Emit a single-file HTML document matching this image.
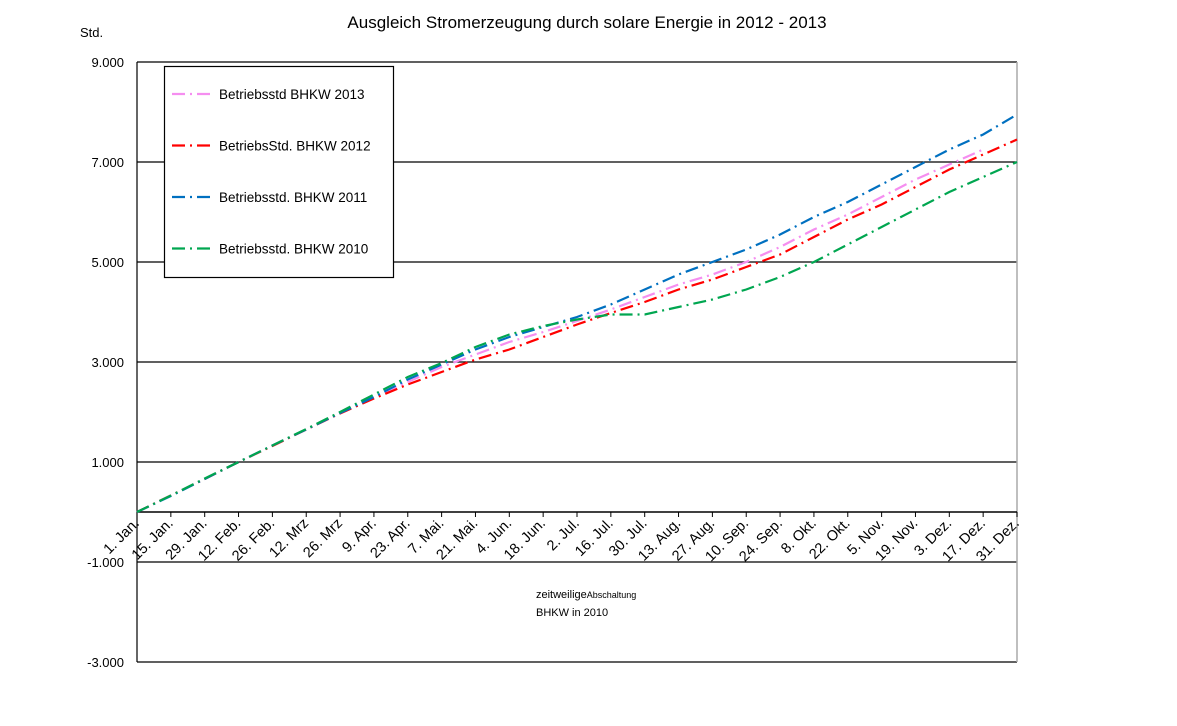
<!DOCTYPE html>
<html><head><meta charset="utf-8"><style>
body{margin:0;background:#fff}
svg{display:block;font-family:"Liberation Sans",sans-serif}
</style></head><body>
<svg id="c" width="1177" height="726" viewBox="0 0 1177 726">
<text x="587" y="28" font-size="17" text-anchor="middle">Ausgleich Stromerzeugung  durch solare Energie in 2012 - 2013</text>
<text x="80" y="37" font-size="13">Std.</text>
<g id="grid"></g><g id="ticks"></g><g id="series"></g>
<text x="536" y="598" font-size="11">zeitweilige<tspan font-size="9">Abschaltung</tspan></text>
<text x="536" y="616" font-size="11">BHKW in 2010</text>
<g id="legend"></g>
</svg>
<script>
const categories=["1. Jan.","15. Jan.","29. Jan.","12. Feb.","26. Feb.","12. Mrz","26. Mrz","9. Apr.","23. Apr.","7. Mai.","21. Mai.","4. Jun.","18. Jun.","2. Jul.","16. Jul.","30. Jul.","13. Aug.","27. Aug.","10. Sep.","24. Sep.","8. Okt.","22. Okt.","5. Nov.","19. Nov.","3. Dez.","17. Dez.","31. Dez."];
const yTicks=[9000,7000,5000,3000,1000,-1000,-3000];
const yTickLabels=["9.000","7.000","5.000","3.000","1.000","-1.000","-3.000"];
const s2013=[0,330,660,1000,1330,1650,1980,2300,2600,2900,3150,3400,3600,3820,4050,4300,4550,4750,5000,5300,5650,5950,6300,6650,6950,7250];
const s2012=[0,330,660,1000,1320,1650,1970,2270,2550,2800,3050,3250,3500,3750,3980,4200,4450,4650,4900,5150,5500,5850,6150,6500,6850,7150,7450];
const s2011=[0,320,660,1000,1330,1650,1980,2300,2650,2950,3250,3500,3700,3900,4150,4450,4750,5000,5250,5550,5900,6200,6550,6900,7250,7550,7950];
const s2010=[0,330,670,1000,1330,1660,2000,2350,2700,2980,3300,3550,3720,3850,3950,3950,4100,4250,4450,4700,5000,5350,5700,6050,6400,6700,7000];
const seriesNames=["Betriebsstd BHKW 2013","BetriebsStd. BHKW 2012","Betriebsstd. BHKW 2011","Betriebsstd. BHKW 2010"];
const seriesColors=["#f58ef0","#ff0000","#0070c0","#00a650"];
const X0=137,X1=1017,Y0=512;
const xs=i=>X0+i*(X1-X0)/(categories.length-1);
const ys=v=>Y0-v*0.05;
const NS="http://www.w3.org/2000/svg";
function mk(p,t,a){const e=document.createElementNS(NS,t);for(const k in a)e.setAttribute(k,a[k]);p.appendChild(e);return e;}
const grid=document.getElementById('grid'),ticks=document.getElementById('ticks'),ser=document.getElementById('series'),leg=document.getElementById('legend');
yTicks.forEach((v,i)=>{
 const l=mk(grid,'line',{x1:X0,x2:X1,y1:ys(v),y2:ys(v),stroke:'#000','stroke-width':1.2});
 
 
 const t=mk(ticks,'text',{x:124,y:ys(v)+5,'font-size':13,'text-anchor':'end'});
 t.textContent=yTickLabels[i];
 
 
});
let a=mk(grid,'line',{x1:X0,x2:X0,y1:62,y2:662,stroke:'#000','stroke-width':1.2});


a=mk(grid,'line',{x1:X1,x2:X1,y1:62,y2:662,stroke:'#aaa','stroke-width':1.5});


a=mk(grid,'line',{x1:X0,x2:X1,y1:Y0,y2:Y0,stroke:'#000','stroke-width':1.5});


categories.forEach((c,i)=>{
 const x=xs(i);
 const tk=mk(ticks,'line',{x1:x,x2:x,y1:Y0,y2:Y0+5,stroke:'#000'});
 
 
 const t=mk(ticks,'text',{x:x+3,y:Y0+12,'font-size':14.5,'text-anchor':'end',transform:`rotate(-45 ${x+3} ${Y0+12})`});
 t.textContent=c;
 
 
});
const dash='13 5 2 5';
[s2013,s2012,s2011,s2010].forEach((d,k)=>{
 const p=mk(ser,'polyline',{points:d.map((v,i)=>xs(i)+','+ys(v)).join(' '),fill:'none',stroke:seriesColors[k],'stroke-width':2.2,'stroke-dasharray':dash});
 
 
});
const box=mk(leg,'rect',{x:164.5,y:66.5,width:229,height:211,fill:'#fff',stroke:'#000','stroke-width':1.2});


seriesNames.forEach((n,k)=>{
 const y=94+k*51.5;
 const l=mk(leg,'line',{x1:172,x2:213,y1:y,y2:y,stroke:seriesColors[k],'stroke-width':2.2,'stroke-dasharray':dash});
 
 
 const t=mk(leg,'text',{x:219,y:y+5,'font-size':13.5});
 t.textContent=n;
 
 
});
</script>
</body></html>
